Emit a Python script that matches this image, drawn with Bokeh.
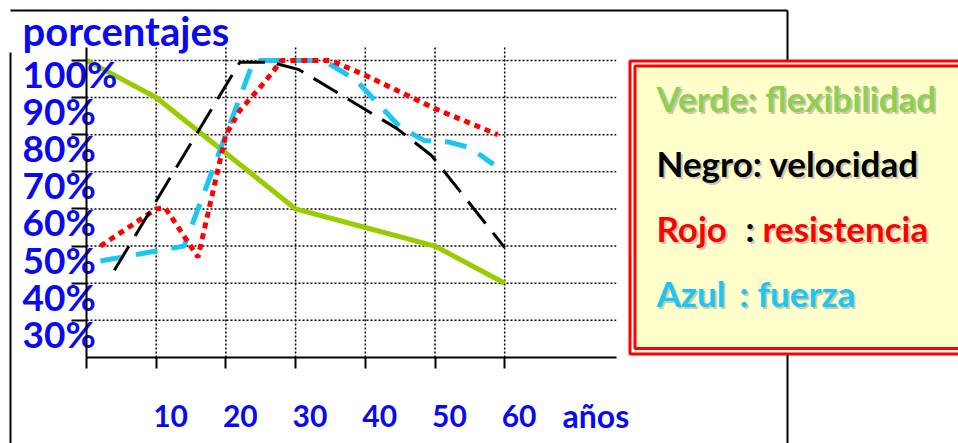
from bokeh.plotting import figure
from bokeh.models import LinearAxis, FixedTicker, Range1d
from bokeh.core.properties import value
from bokeh.embed import file_html
from bokeh.resources import INLINE

# ---------------- data ----------------
edad_flex = [0, 10, 20, 30, 40, 50, 60]
flexibilidad = [100, 90, 75, 60, 55, 50, 40]

edad_vel = [4, 22, 26.5, 30.5, 44.5, 49.5, 60]
velocidad = [43.5, 99.5, 99.5, 97.5, 81.7, 74.4, 49.6]

edad_res = [2, 10, 11.3, 16, 20, 22, 25.5, 28, 35, 40, 50, 59]
resistencia = [50, 60, 60.3, 47, 80, 86.5, 94, 100, 100, 96, 87, 80]

edad_fue = [2, 8, 11, 14, 24, 34, 38.6, 45, 48.5, 52, 55, 58.4]
fuerza = [46, 48, 49, 50, 100, 100, 94.8, 82, 78.4, 78, 76.5, 72]

x_ticks = [10, 20, 30, 40, 50, 60]
x_labels = ["10", "20", "30", "40", "50", "60"]
y_ticks = [30, 40, 50, 60, 70, 80, 90, 100]
y_labels = ["30%", "40%", "50%", "60%", "70%", "80%", "90%", "100%"]

# ---------------- layout (pixel geometry of the slide) ----------------
W, H = 958, 443
X0_PX, X_PER = 86.0, 6.97      # pixel of age 0, pixels per year
Y20_PX, Y_PER = 357.0, 3.714   # pixel of 20 %, pixels per percent
X_END = 76.0                   # right end of the plot area (years)
Y_TOP = 103.5                  # top of the plot area (percent)
Y_BASE = 20.0
TDY = -15                      # correction of the text baseline (pixels)

def dx(px):
    return (px - X0_PX) / X_PER

def dy(py):
    return Y_BASE + (Y20_PX - py) / Y_PER

FONT = value("Lato")
BLUE = "#0A0AF0"

p = figure(width=W, height=H,
           x_range=Range1d(dx(0), dx(W)),
           y_range=Range1d(dy(H), dy(0)),
           x_axis_type=None, y_axis_type=None,
           toolbar_location=None, output_backend="svg",
           min_border=0, outline_line_color=None,
           background_fill_color="white", border_fill_color="white")

# slide frame lines
p.line(x=[dx(10), dx(787)], y=[dy(10), dy(10)], line_color="black", line_width=2)
p.line(x=[dx(10), dx(10)], y=[dy(52), dy(460)], line_color="black", line_width=2)
p.line(x=[dx(787), dx(787)], y=[dy(10), dy(460)], line_color="black", line_width=2)

# dotted grid
p.segment(x0=x_ticks, y0=Y_BASE, x1=x_ticks, y1=Y_TOP,
          line_color="black", line_width=1.5, line_dash="2 2")
p.segment(x0=0, y0=y_ticks, x1=X_END, y1=y_ticks,
          line_color="black", line_width=1.5, line_dash="2 2")

# series
p.line(edad_flex, flexibilidad, line_color="#99CC00", line_width=5)
p.line(edad_fue, fuerza, line_color="#1CC6F2", line_width=5, line_dash="22 14")
p.line(edad_res, resistencia, line_color="#FF0000", line_width=5, line_dash="6 5")
p.line(edad_vel, velocidad, line_color="black", line_width=3, line_dash="28 12")

# legend box (double red border, light yellow fill)
p.quad(left=dx(629.5), right=dx(1000), top=dy(60.5), bottom=dy(353.5),
       fill_color="white", line_color="#FF0000", line_width=3)
p.quad(left=dx(634.5), right=dx(1000), top=dy(65.5), bottom=dy(348),
       fill_color="#FFFFCC", line_color="#FF0000", line_width=3)

def txt(px, py, s, color, size, shadow=False):
    x, y = dx(px), dy(py + TDY)
    if shadow:
        p.text(x=x, y=y, text=[s], text_font=FONT, text_font_style="bold",
               text_font_size=size, text_color="#9A9A9A", text_alpha=0.55,
               text_align="left", text_baseline="alphabetic", x_offset=2, y_offset=2)
    p.text(x=x, y=y, text=[s], text_font=FONT, text_font_style="bold",
           text_font_size=size, text_color=color,
           text_align="left", text_baseline="alphabetic")

LEG = "35px"
GREEN_T, RED_T, CYAN_T = "#8FCF4F", "#FF0000", "#1CC6F2"
txt(656, 112, "Verde: flexibilidad", GREEN_T, LEG, shadow=True)
txt(656, 177, "Negro: velocidad", "black", LEG, shadow=True)
txt(656, 242, "Rojo", RED_T, LEG, shadow=True)
txt(745, 242, ":", "black", LEG, shadow=True)
txt(762, 242, "resistencia", RED_T, LEG, shadow=True)
txt(656, 307, "Azul", CYAN_T, LEG, shadow=True)
txt(739, 307, ":", CYAN_T, LEG, shadow=True)
txt(757, 307, "fuerza", CYAN_T, LEG, shadow=True)

# titles
txt(22, 45, "porcentajes", BLUE, "40px")
txt(562, 430, "años", BLUE, "32px")

# tick labels
p.text(x=dx(22), y=y_ticks, text=y_labels, text_font=FONT, text_font_style="bold",
       text_font_size="37px", text_color=BLUE, text_align="left",
       text_baseline="alphabetic", y_offset=28 + TDY)
p.text(x=x_ticks, y=Y_BASE, text=x_labels, text_font=FONT, text_font_style="bold",
       text_font_size="30px", text_color=BLUE, text_align="left",
       text_baseline="alphabetic", x_offset=-3, y_offset=73 + TDY)

# axes drawn at fixed data locations
yax = LinearAxis(fixed_location=0, bounds=(Y_BASE, Y_TOP),
                 ticker=FixedTicker(ticks=y_ticks))
xax = LinearAxis(fixed_location=Y_BASE, bounds=(0, X_END),
                 ticker=FixedTicker(ticks=[0] + x_ticks))
for ax, tick_out in ((yax, 15), (xax, 11)):
    ax.axis_line_color = "black"
    ax.axis_line_width = 2
    ax.major_tick_line_color = "black"
    ax.major_tick_line_width = 2
    ax.major_tick_out = tick_out
    ax.major_tick_in = 0
    ax.minor_tick_out = 0
    ax.minor_tick_in = 0
    ax.major_label_text_font_size = "0px"
    ax.major_label_text_alpha = 0
p.add_layout(yax, "left")
p.add_layout(xax, "below")

open("out.html", "w").write(file_html(p, INLINE))
